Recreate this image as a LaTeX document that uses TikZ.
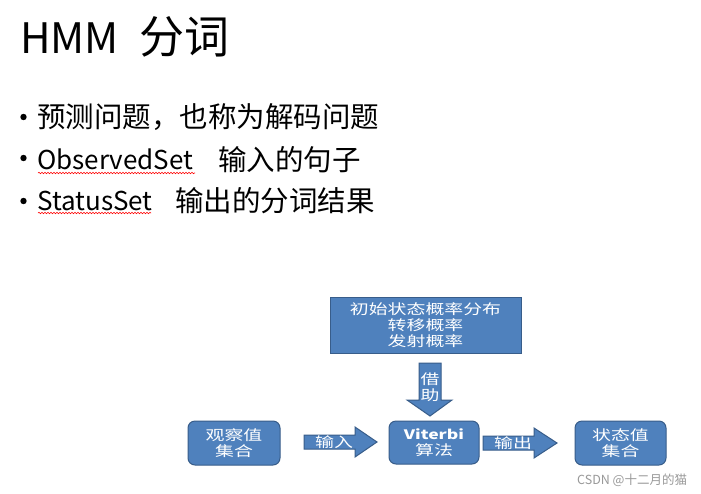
\documentclass[tikz,border=0pt]{standalone}
\usepackage{fontspec}
\setmainfont{Noto Sans CJK SC}
\newfontfamily\widecjk[FakeStretch=1.35]{Noto Sans CJK SC}
\usetikzlibrary{decorations.pathmorphing}
\definecolor{boxblue}{HTML}{4F81BD}
\definecolor{boxedge}{HTML}{385D8A}
\tikzset{
  bluebox/.style={draw=boxedge, line width=1pt, fill=boxblue, text=white, align=center, inner sep=0pt, font=\widecjk\fontsize{14}{16}\selectfont},
  roundbox/.style={bluebox, rounded corners=7pt},
  blockarrow/.style={draw=boxedge, line width=1pt, fill=boxblue},
  arrowtext/.style={text=white, align=center, inner sep=0pt, font=\widecjk\fontsize{14}{16}\selectfont},
  bigtext/.style={anchor=base west, inner sep=0pt, font=\fontsize{28.5}{30}\selectfont},
  latintext/.style={anchor=base west, inner sep=0pt, font=\fontsize{26}{28}\selectfont},
  spellwave/.style={red, line width=0.6pt, decorate, decoration={snake, amplitude=0.7pt, segment length=3pt}},
  bulletdot/.style={fill=black}
}
\begin{document}
\begin{tikzpicture}[x=1pt,y=-1pt]
\useasboundingbox (0,0) rectangle (701,493);
\fill[white] (0,0) rectangle (701,493);

% title
\node[anchor=base west, inner sep=0pt, font=\fontsize{42}{44}\selectfont] (title) at (20,53) {HMM};
\node[anchor=base west, inner sep=0pt, font=\fontsize{45}{46}\selectfont] (titlecn) at (139,53) {分词};

% bullets
\fill[bulletdot] (23.5,117) circle (3.2);
\fill[bulletdot] (23.5,158) circle (3.2);
\fill[bulletdot] (23.5,201) circle (3.2);
\node[bigtext] (l1) at (37,127) {预测问题，也称为解码问题};
\node[latintext] (l2a) at (37,169) {ObservedSet};
\node[bigtext] (l2b) at (218,170) {输入的句子};
\node[latintext] (l3a) at (37,210) {StatusSet};
\node[bigtext] (l3b) at (175,211) {输出的分词结果};
\draw[spellwave] (38,173) -- (195,173);
\draw[spellwave] (38,213) -- (151,213);

% top box
\node[bluebox, minimum width=191pt, minimum height=56pt] (params) at (425.5,325)
  {初始状态概率分布\\转移概率\\发射概率};

% down arrow
\draw[blockarrow] (419,363) -- (441,363) -- (441,400) -- (452,400) -- (430,416) -- (407,400) -- (419,400) -- cycle;
\node[arrowtext, font=\widecjk\fontsize{14}{16.5}\selectfont] (borrow) at (430,387) {借\\助};

% bottom boxes
\node[roundbox, minimum width=92pt, minimum height=44pt] (obs) at (234,443) {观察值\\集合};
\node[roundbox, minimum width=90pt, minimum height=43pt] (vit) at (434,442.5)
  {{\bfseries\fontsize{13}{16}\selectfont Viterbi}\\算法};
\node[roundbox, minimum width=91pt, minimum height=44pt] (sta) at (620.5,443) {状态值\\集合};

% block arrows
\draw[blockarrow] (304,435) -- (355,435) -- (355,427) -- (377,442) -- (355,457) -- (355,449) -- (304,449) -- cycle;
\node[arrowtext] (inlbl) at (334,442) {输入};
\draw[blockarrow] (483,436) -- (534,436) -- (534,428) -- (557,443) -- (534,458) -- (534,450) -- (483,450) -- cycle;
\node[arrowtext] (outlbl) at (513,443) {输出};

% watermark
\node[anchor=base west, inner sep=0pt, text=black!40, font=\fontsize{12.5}{13}\selectfont] (wm) at (577,484) {CSDN @十二月的猫};
\end{tikzpicture}
\end{document}
